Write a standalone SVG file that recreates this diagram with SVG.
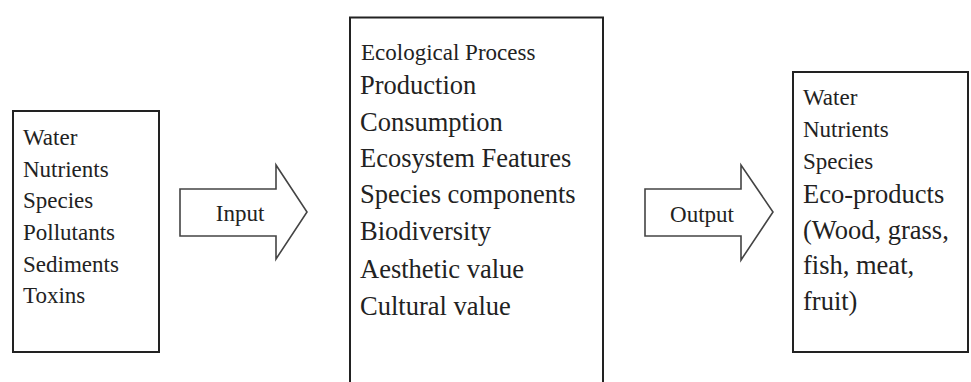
<svg xmlns="http://www.w3.org/2000/svg" width="971" height="382" viewBox="0 0 971 382">
  <style>
    .box { fill: #ffffff; stroke: #222222; stroke-width: 2; }
    .arrow { fill: #ffffff; stroke: #444444; stroke-width: 1.6; stroke-linejoin: miter; }
    text { font-family: "Liberation Serif", "Times New Roman", serif; fill: #222222; }
    .sm { font-size: 23px; }
    .lg { font-size: 26.5px; }
  </style>

  <rect width="971" height="382" fill="#ffffff"/>

  <!-- Inputs -->
  <g id="inputs">
    <rect class="box" x="13" y="111" width="146" height="241"/>
    <text class="sm" x="23" y="145">Water</text>
    <text class="sm" x="23" y="176.5">Nutrients</text>
    <text class="sm" x="23" y="208">Species</text>
    <text class="sm" x="23" y="240">Pollutants</text>
    <text class="sm" x="23" y="272">Sediments</text>
    <text class="sm" x="23" y="303">Toxins</text>
  </g>

  <!-- Ecological process (box runs off the bottom edge) -->
  <g id="process">
    <path class="box" d="M350,390 V17.5 H603 V390"/>
    <text class="sm" x="361" y="59.5">Ecological Process</text>
    <text class="lg" x="360" y="94">Production</text>
    <text class="lg" x="360" y="130.5">Consumption</text>
    <text class="lg" x="360" y="167">Ecosystem Features</text>
    <text class="lg" x="360" y="203">Species components</text>
    <text class="lg" x="360" y="240">Biodiversity</text>
    <text class="lg" x="360" y="278">Aesthetic value</text>
    <text class="lg" x="360" y="315">Cultural value</text>
  </g>

  <!-- Outputs -->
  <g id="outputs">
    <rect class="box" x="793" y="72" width="175" height="280"/>
    <text class="sm" x="803" y="105">Water</text>
    <text class="sm" x="803" y="137">Nutrients</text>
    <text class="sm" x="803" y="169">Species</text>
    <text class="lg" x="803" y="203">Eco-products</text>
    <text class="lg" x="803" y="239">(Wood, grass,</text>
    <text class="lg" x="803" y="274">fish, meat,</text>
    <text class="lg" x="803" y="310">fruit)</text>
  </g>

  <!-- Block arrows between stages -->
  <g id="connectors">
    <g id="input-arrow">
      <path class="arrow" d="M180,189 H276 V165 L307,212 L276,259 V236 H180 Z"/>
      <text class="sm" x="240" y="221" text-anchor="middle">Input</text>
    </g>
    <g id="output-arrow">
      <path class="arrow" d="M645,189 H741 V165 L773,212 L741,260 V236 H645 Z"/>
      <text class="sm" x="702" y="221.5" text-anchor="middle">Output</text>
    </g>
  </g>
</svg>
